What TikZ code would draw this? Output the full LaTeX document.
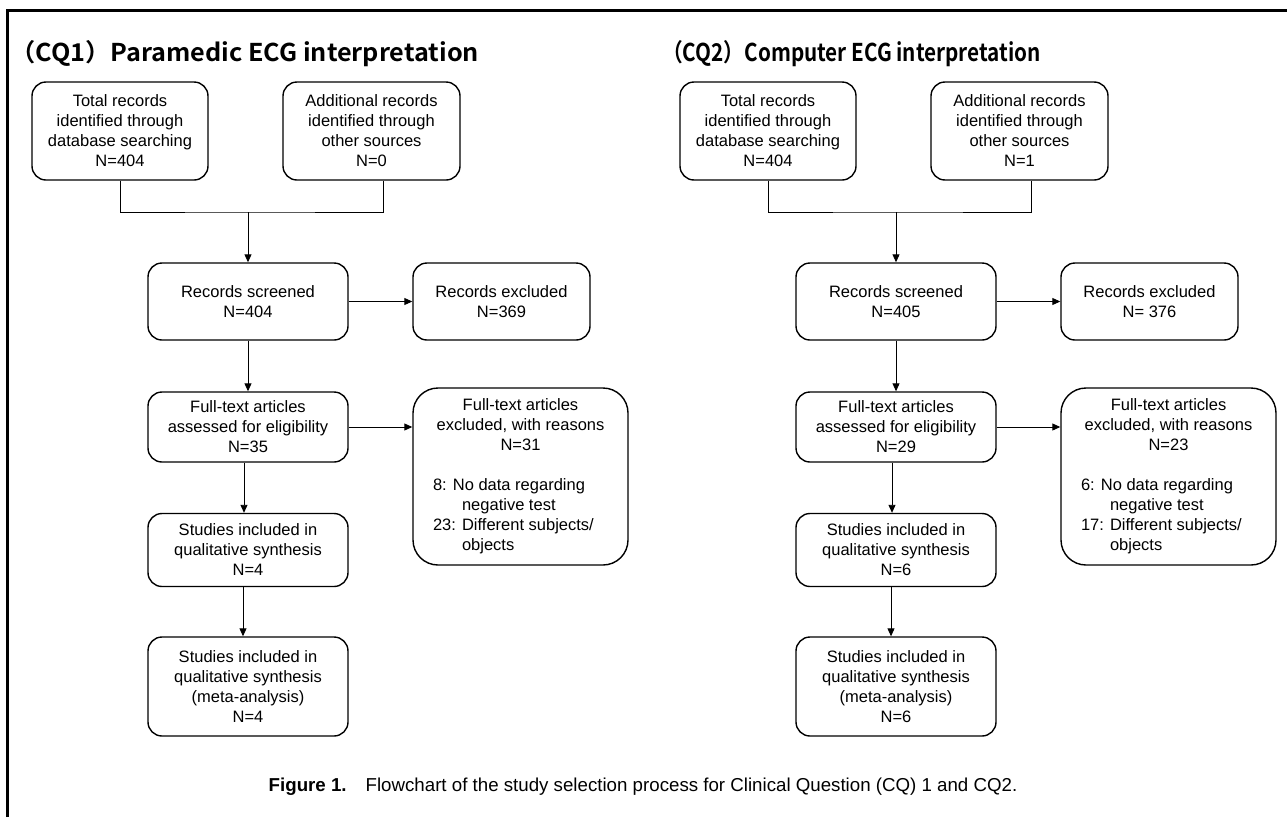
\documentclass[tikz,border=0pt]{standalone}
\usepackage{fontspec}
\usepackage{graphicx}
\usetikzlibrary{arrows.meta}
\setmainfont{Liberation Sans}
\newfontfamily\boxfnt{Liberation Sans}
\newfontfamily\titlefnt{Noto Sans CJK JP Bold}
\begin{document}
\begin{tikzpicture}[x=1pt,y=-1pt,
  flowbox/.style={draw, rounded corners=14pt, line width=1.4pt, inner sep=0pt, align=center,
    font={\boxfnt\fontsize{16.5}{20}\selectfont}},
  bigbox/.style={flowbox, rounded corners=25pt},
  conn/.style={line width=0.9pt},
  arr/.style={line width=0.9pt, -{Triangle[length=8pt,width=7pt]}},
  ttl/.style={anchor=base west, inner sep=0pt, font={\titlefnt\fontsize{24.5}{28}\selectfont}},
  captxt/.style={anchor=base, inner sep=0pt, font={\fontsize{18.7}{22}\selectfont}}]
\useasboundingbox (0,0) rectangle (1287,817);
\fill[white] (0,0) rectangle (1287,817);
\draw[line width=3pt] (7.7,817) -- (7.7,10) -- (1287,10);

% ---------- CQ1 ----------
\node[ttl] (t1) at (10,61.5) {\scalebox{1.03}[1]{（CQ1）Paramedic ECG interpretation}};
\node[flowbox, minimum width=176pt, minimum height=98pt] (A1) at (120,131)
  {Total records\\identified through\\database searching\\N=404};
\node[flowbox, minimum width=177pt, minimum height=98pt] (B1) at (371.5,131)
  {Additional records\\identified through\\other sources\\N=0};
\node[flowbox, minimum width=200pt, minimum height=77pt] (C1) at (248,301.5)
  {Records screened\\N=404};
\node[flowbox, minimum width=177pt, minimum height=77pt] (D1) at (501.5,301.5)
  {Records excluded\\N=369};
\node[flowbox, minimum width=200pt, minimum height=70pt] (E1) at (248,427)
  {Full-text articles\\assessed for eligibility\\N=35};
\node[bigbox, minimum width=215pt, minimum height=177pt] (F1) at (520.5,476.5)
  {Full-text articles\\excluded, with reasons\\N=31\\[20pt]
   \makebox[175pt][l]{8: No data regarding}\\
   \makebox[175pt][l]{\phantom{23: }negative test}\\
   \makebox[175pt][l]{23: Different subjects/}\\
   \makebox[175pt][l]{\phantom{23: }objects}};
\node[flowbox, minimum width=200pt, minimum height=73pt] (G1) at (248,550)
  {Studies included in\\qualitative synthesis\\N=4};
\node[flowbox, minimum width=200pt, minimum height=99pt] (H1) at (248,686.5)
  {Studies included in\\qualitative synthesis\\(meta-analysis)\\N=4};
\coordinate (j1) at (248,212);
\draw[conn] (A1.south) |- (j1) -| ([xshift=11.5pt]B1.south);
\draw[arr] (j1) -- (C1.north);
\draw[arr] (C1.east) -- (D1.west);
\draw[arr] (C1.south) -- (E1.north);
\draw[arr] (E1.east) -- (E1.east -| F1.west);
\draw[arr] ([xshift=-4pt]E1.south) -- ([xshift=-4pt]G1.north);
\draw[arr] ([xshift=-5pt]G1.south) -- ([xshift=-5pt]H1.north);

% ---------- CQ2 ----------
\node[ttl] (t2) at (662,61.5) {\scalebox{0.845}[1]{（CQ2）Computer ECG interpretation}};
\node[flowbox, minimum width=176pt, minimum height=98pt] (A2) at (768,131)
  {Total records\\identified through\\database searching\\N=404};
\node[flowbox, minimum width=177pt, minimum height=98pt] (B2) at (1019.5,131)
  {Additional records\\identified through\\other sources\\N=1};
\node[flowbox, minimum width=200pt, minimum height=77pt] (C2) at (896,301.5)
  {Records screened\\N=405};
\node[flowbox, minimum width=177pt, minimum height=77pt] (D2) at (1149.5,301.5)
  {Records excluded\\N= 376};
\node[flowbox, minimum width=200pt, minimum height=70pt] (E2) at (896,427)
  {Full-text articles\\assessed for eligibility\\N=29};
\node[bigbox, minimum width=215pt, minimum height=177pt] (F2) at (1168.5,476.5)
  {Full-text articles\\excluded, with reasons\\N=23\\[20pt]
   \makebox[175pt][l]{6: No data regarding}\\
   \makebox[175pt][l]{\phantom{17: }negative test}\\
   \makebox[175pt][l]{17: Different subjects/}\\
   \makebox[175pt][l]{\phantom{17: }objects}};
\node[flowbox, minimum width=200pt, minimum height=73pt] (G2) at (896,550)
  {Studies included in\\qualitative synthesis\\N=6};
\node[flowbox, minimum width=200pt, minimum height=99pt] (H2) at (896,686.5)
  {Studies included in\\qualitative synthesis\\(meta-analysis)\\N=6};
\coordinate (j2) at (896,212);
\draw[conn] (A2.south) |- (j2) -| ([xshift=11.5pt]B2.south);
\draw[arr] (j2) -- (C2.north);
\draw[arr] (C2.east) -- (D2.west);
\draw[arr] (C2.south) -- (E2.north);
\draw[arr] (E2.east) -- (E2.east -| F2.west);
\draw[arr] ([xshift=-4pt]E2.south) -- ([xshift=-4pt]G2.north);
\draw[arr] ([xshift=-5pt]G2.south) -- ([xshift=-5pt]H2.north);

% ---------- caption ----------
\node[captxt] (capt) at (643,791) {\textbf{Figure 1.}\hspace{19pt}Flowchart of the study selection process for Clinical Question (CQ) 1 and CQ2.};
\end{tikzpicture}
\end{document}
